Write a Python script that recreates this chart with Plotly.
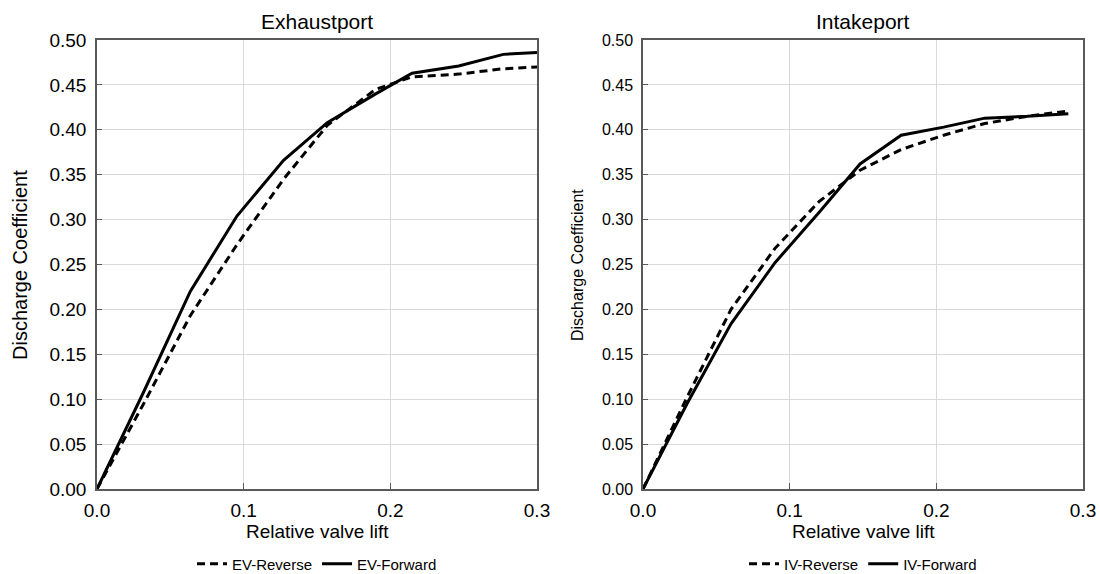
import plotly.graph_objects as go

# Exhaustport data
ev_rev_x = [0.0, 0.0318, 0.0636, 0.0954, 0.1272, 0.157, 0.190, 0.2148, 0.2466, 0.277, 0.300]
ev_rev_y = [0.0, 0.095, 0.193, 0.272, 0.345, 0.405, 0.445, 0.459, 0.462, 0.468, 0.470]
ev_fwd_x = [0.0, 0.0318, 0.0636, 0.0954, 0.1272, 0.157, 0.190, 0.2148, 0.2466, 0.277, 0.300]
ev_fwd_y = [0.0, 0.108, 0.220, 0.304, 0.366, 0.408, 0.440, 0.463, 0.471, 0.484, 0.486]

# Intakeport data
iv_rev_x = [0.0, 0.03, 0.06, 0.09, 0.12, 0.148, 0.176, 0.205, 0.233, 0.262, 0.29]
iv_rev_y = [0.0, 0.102, 0.200, 0.268, 0.320, 0.355, 0.378, 0.394, 0.407, 0.415, 0.421]
iv_fwd_x = [0.0, 0.03, 0.06, 0.09, 0.12, 0.148, 0.176, 0.205, 0.233, 0.262, 0.29]
iv_fwd_y = [0.0, 0.095, 0.184, 0.252, 0.308, 0.362, 0.394, 0.403, 0.413, 0.415, 0.418]

x_ticks = [0.0, 0.1, 0.2, 0.3]
x_tick_labels = ["0.0", "0.1", "0.2", "0.3"]
y_ticks = [0.0, 0.05, 0.10, 0.15, 0.20, 0.25, 0.30, 0.35, 0.40, 0.45, 0.50]
y_tick_labels = ["0.00", "0.05", "0.10", "0.15", "0.20", "0.25", "0.30", "0.35", "0.40", "0.45", "0.50"]

FONT = "Liberation Sans, Arial, sans-serif"
W, H = 1100, 574
DASH = "8px,5px"

fig = go.Figure()
fig.add_trace(go.Scatter(x=ev_rev_x, y=ev_rev_y, mode="lines", name="EV-Reverse",
                         line=dict(color="black", width=3, dash=DASH),
                         xaxis="x", yaxis="y", legend="legend"))
fig.add_trace(go.Scatter(x=ev_fwd_x, y=ev_fwd_y, mode="lines", name="EV-Forward",
                         line=dict(color="black", width=3),
                         xaxis="x", yaxis="y", legend="legend"))
fig.add_trace(go.Scatter(x=iv_rev_x, y=iv_rev_y, mode="lines", name="IV-Reverse",
                         line=dict(color="black", width=3, dash=DASH),
                         xaxis="x2", yaxis="y2", legend="legend2"))
fig.add_trace(go.Scatter(x=iv_fwd_x, y=iv_fwd_y, mode="lines", name="IV-Forward",
                         line=dict(color="black", width=3),
                         xaxis="x2", yaxis="y2", legend="legend2"))

ydom = [1 - 489 / H, 1 - 40 / H]

def xax(domain, anchor):
    return dict(domain=domain, anchor=anchor, range=[0, 0.3], tickvals=x_ticks,
                ticktext=x_tick_labels, showgrid=True, gridcolor="#d9d9d9", gridwidth=1,
                showline=True, linecolor="#595959", linewidth=1.5, mirror=True,
                ticks="inside", ticklen=6, tickcolor="#595959", ticklabelstandoff=3,
                tickfont=dict(family=FONT, size=19, color="black"),
                automargin=False, zeroline=False, fixedrange=True)

def yax(domain, anchor, size):
    return dict(domain=domain, anchor=anchor, range=[0, 0.5], tickvals=y_ticks,
                ticktext=y_tick_labels, showgrid=True, gridcolor="#d9d9d9", gridwidth=1,
                showline=True, linecolor="#595959", linewidth=1.5, mirror=True,
                ticks="inside", ticklen=5, tickcolor="#595959", ticklabelstandoff=5,
                tickfont=dict(family=FONT, size=size, color="black"),
                automargin=False, zeroline=False, fixedrange=True)

def ann(text, x, y, size, angle=0):
    return dict(text=text, x=x / W, y=1 - y / H, xref="paper", yref="paper",
                showarrow=False, textangle=angle, xanchor="center", yanchor="middle",
                font=dict(family=FONT, size=size, color="black"))

def leg(xc):
    return dict(orientation="h", x=xc / W, xanchor="center", xref="container",
                y=1 - 564 / H, yanchor="middle", yref="container",
                font=dict(family=FONT, size=15, color="black"), itemwidth=30,
                bgcolor="rgba(0,0,0,0)", tracegroupgap=0)

fig.update_layout(
    width=W, height=H,
    margin=dict(l=0, r=0, t=0, b=0, autoexpand=False),
    paper_bgcolor="white", plot_bgcolor="white",
    font=dict(family=FONT, color="black"),
    xaxis=xax([97 / W, 537 / W], "y"),
    yaxis=yax(ydom, "x", 19),
    xaxis2=xax([643 / W, 1083 / W], "y2"),
    yaxis2=yax(ydom, "x2", 16),
    legend=leg(317),
    legend2=leg(863),
    annotations=[
        ann("Exhaustport", 317, 21, 21),
        ann("Intakeport", 863, 21, 21),
        ann("Relative valve lift", 317, 531, 19),
        ann("Relative valve lift", 863, 531, 19),
        ann("Discharge Coefficient", 20, 265, 20, -90),
        ann("Discharge Coefficient", 577, 265, 16, -90),
    ],
)

fig.write_html("out.html")
